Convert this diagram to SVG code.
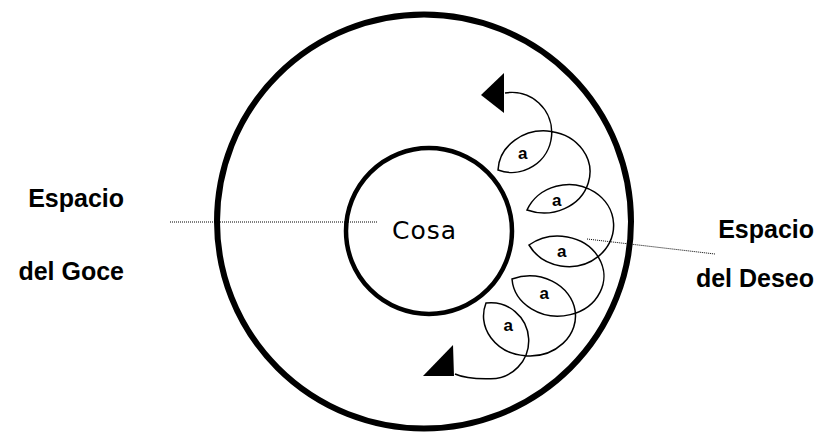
<svg xmlns="http://www.w3.org/2000/svg" width="817" height="432" viewBox="0 0 817 432">
<style>
.lbl{font-family:"Liberation Sans",Arial,sans-serif;font-weight:bold;font-size:25px;fill:#000;text-anchor:end}
.a{font-family:"Liberation Sans",Arial,sans-serif;font-weight:bold;font-size:17px;fill:#000;text-anchor:middle}
.loop{fill:none;stroke:#000;stroke-width:1.5;stroke-linejoin:miter}
.dot{fill:none;stroke:#000;stroke-width:1;stroke-dasharray:1 1}
.ring{fill:none;stroke:#000}
.head{fill:#000;stroke:none}
</style>
<rect width="817" height="432" fill="#fff"/>
<g id="espacio-goce">
<circle class="ring" cx="424" cy="221.5" r="207" stroke-width="6"/>
</g>
<g id="cosa">
<circle class="ring" cx="429" cy="231" r="83" stroke-width="4.5"/>
<text x="424.5" y="239" font-family="'DejaVu Sans',Arial,sans-serif" font-size="25" text-anchor="middle" letter-spacing="1">Cosa</text>
</g>
<g id="label-goce">
<text class="lbl" x="124" y="207">Espacio</text>
<text class="lbl" x="124" y="280">del Goce</text>
</g>
<g id="label-deseo">
<text class="lbl" x="814" y="237.5">Espacio</text>
<text class="lbl" x="814" y="287">del Deseo</text>
</g>
<g id="objetos-a">
<text class="a" x="522.7" y="159">a</text>
<text class="a" x="556.7" y="205.5">a</text>
<text class="a" x="561.7" y="256.5">a</text>
<text class="a" x="544.3" y="298.5">a</text>
<text class="a" x="508.3" y="331">a</text>
</g>
<g id="connectors">
<line class="dot" x1="170" y1="222" x2="377" y2="222"/>
<line class="dot" x1="587" y1="239" x2="715" y2="254"/>
<path class="loop" d="M505,93 A40,40 0 1 1 498,170 A46,41 0 1 1 527,210 A45,41 0 1 1 529,245 A46,40 0 1 1 512,279 A46,40 0 1 1 486,303 A38,38 0 1 1 490,378.7 C478,379 464,378 455,374"/>
<polygon class="head" points="481,95 504,73 504,113"/>
<polygon class="head" points="453,345 454,376 423,376"/>
</g>
</svg>
